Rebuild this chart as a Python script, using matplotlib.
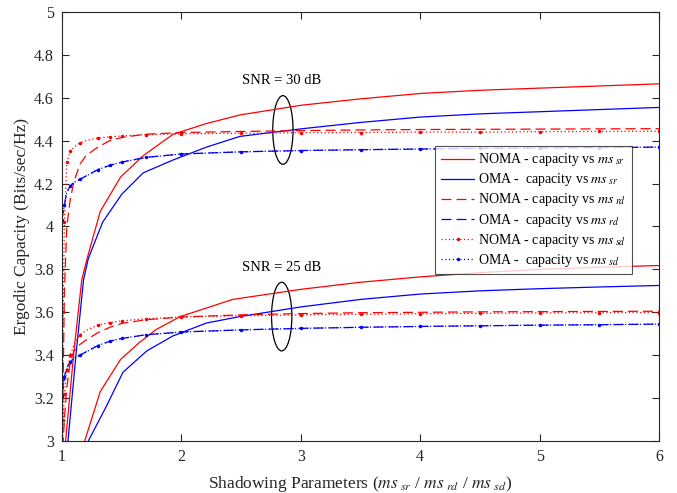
import numpy as np
import matplotlib.pyplot as plt
from matplotlib.patches import Ellipse
from matplotlib.ticker import FormatStrFormatter

plt.rcParams['font.family'] = ['Liberation Serif', 'DejaVu Serif']
plt.rcParams['mathtext.fontset'] = 'stix'

# common grid for the ms_rd / ms_sd curves
x_m = [1.0, 1.01, 1.02, 1.04, 1.07, 1.1, 1.15, 1.2, 1.3, 1.4, 1.5, 1.7, 2.0, 2.5, 3, 3.5, 4, 4.5, 5, 5.5, 6]

# SNR = 30 dB
noma_sd_30 = [2.9, 3.6, 4.02, 4.30, 4.35, 4.37, 4.39, 4.40, 4.412, 4.418, 4.422, 4.428, 4.432, 4.435, 4.437, 4.438, 4.44, 4.44, 4.442, 4.443, 4.444]
noma_rd_30 = [2.9, 3.3, 3.7, 4.0, 4.13, 4.21, 4.29, 4.33, 4.37, 4.40, 4.415, 4.43, 4.438, 4.443, 4.447, 4.45, 4.452, 4.453, 4.454, 4.455, 4.456]
oma_rd_30 = [4.03, 4.07, 4.10, 4.16, 4.19, 4.205, 4.22, 4.235, 4.265, 4.285, 4.30, 4.322, 4.338, 4.348, 4.354, 4.358, 4.361, 4.364, 4.366, 4.368, 4.37]
oma_sd_30 = [4.03, 4.07, 4.10, 4.16, 4.19, 4.205, 4.22, 4.235, 4.265, 4.285, 4.30, 4.322, 4.338, 4.348, 4.354, 4.358, 4.361, 4.364, 4.366, 4.368, 4.37]

x_noma_sr_30 = [1.0, 1.03, 1.1, 1.165, 1.21, 1.32, 1.49, 1.68, 1.93, 2.21, 2.49, 3, 3.5, 4, 4.5, 5, 5.5, 6]
noma_sr_30 = [2.5, 3.0, 3.42, 3.75, 3.85, 4.07, 4.23, 4.33, 4.43, 4.48, 4.52, 4.565, 4.595, 4.62, 4.635, 4.645, 4.655, 4.665]
x_oma_sr_30 = [1.0, 1.05, 1.12, 1.18, 1.22, 1.34, 1.5, 1.68, 1.93, 2.21, 2.49, 3, 3.5, 4, 4.5, 5, 5.5, 6]
oma_sr_30 = [2.5, 3.0, 3.42, 3.75, 3.85, 4.02, 4.15, 4.25, 4.31, 4.37, 4.42, 4.455, 4.485, 4.51, 4.525, 4.535, 4.545, 4.555]

# SNR = 25 dB
noma_sd_25 = [2.9, 3.1, 3.22, 3.33, 3.40, 3.45, 3.495, 3.515, 3.54, 3.552, 3.56, 3.57, 3.578, 3.584, 3.588, 3.591, 3.593, 3.595, 3.597, 3.598, 3.599]
noma_rd_25 = [2.9, 3.0, 3.1, 3.25, 3.37, 3.42, 3.45, 3.47, 3.505, 3.53, 3.548, 3.565, 3.578, 3.588, 3.594, 3.598, 3.6, 3.602, 3.603, 3.604, 3.605]
oma_rd_25 = [3.21, 3.25, 3.30, 3.34, 3.37, 3.385, 3.40, 3.415, 3.445, 3.465, 3.478, 3.495, 3.508, 3.518, 3.525, 3.53, 3.534, 3.537, 3.54, 3.542, 3.545]
oma_sd_25 = [3.21, 3.25, 3.30, 3.34, 3.37, 3.385, 3.40, 3.415, 3.445, 3.465, 3.478, 3.495, 3.508, 3.518, 3.525, 3.53, 3.534, 3.537, 3.54, 3.542, 3.545]

x_noma_sr_25 = [1.1, 1.19, 1.32, 1.49, 1.65, 1.79, 1.99, 2.21, 2.43, 3, 3.5, 4, 4.5, 5, 5.5, 6]
noma_sr_25 = [2.6, 3.0, 3.23, 3.38, 3.46, 3.52, 3.58, 3.62, 3.66, 3.707, 3.74, 3.765, 3.785, 3.80, 3.81, 3.818]
x_oma_sr_25 = [1.12, 1.22, 1.37, 1.51, 1.71, 1.93, 2.21, 2.49, 3, 3.5, 4, 4.5, 5, 5.5, 6]
oma_sr_25 = [2.6, 3.0, 3.16, 3.32, 3.42, 3.49, 3.55, 3.58, 3.625, 3.66, 3.685, 3.70, 3.71, 3.718, 3.725]

fig = plt.figure(figsize=(6.77, 4.93), dpi=100)
ax = fig.add_axes([0.0916, 0.1055, 0.8818, 0.8702])

lw = 0.9
dash = (8, 4)
dot = dict(ls=(0, (1, 2)), marker='.', ms=3, markevery=0.022)
ax.plot(x_noma_sr_30, noma_sr_30, 'r-', lw=lw, label='NOMA - capacity vs $ms_{\\ sr}$')
ax.plot(x_oma_sr_30, oma_sr_30, 'b-', lw=lw, label='OMA -  capacity vs $ms_{\\ sr}$')
ax.plot(x_m, noma_rd_30, 'r--', lw=lw, dashes=dash, label='NOMA - capacity vs $ms_{\\ rd}$')
ax.plot(x_m, oma_rd_30, 'b--', lw=lw, dashes=dash, label='OMA -  capacity vs $ms_{\\ rd}$')
ax.plot(x_m, noma_sd_30, color='r', lw=lw, label='NOMA - capacity vs $ms_{\\ sd}$', **dot)
ax.plot(x_m, oma_sd_30, color='b', lw=lw, label='OMA -  capacity vs $ms_{\\ sd}$', **dot)

ax.plot(x_noma_sr_25, noma_sr_25, 'r-', lw=lw)
ax.plot(x_oma_sr_25, oma_sr_25, 'b-', lw=lw)
ax.plot(x_m, noma_rd_25, 'r--', lw=lw, dashes=dash)
ax.plot(x_m, oma_rd_25, 'b--', lw=lw, dashes=dash)
ax.plot(x_m, noma_sd_25, color='r', lw=lw, **dot)
ax.plot(x_m, oma_sd_25, color='b', lw=lw, **dot)

ax.add_patch(Ellipse((2.85, 4.45), 0.17, 0.32, fill=False, ec='k', lw=0.9))
ax.add_patch(Ellipse((2.84, 3.58), 0.17, 0.32, fill=False, ec='k', lw=0.9))
ax.text(2.84, 4.68, 'SNR = 30 dB', ha='center', va='center', fontsize=10.5)
ax.text(2.84, 3.81, 'SNR = 25 dB', ha='center', va='center', fontsize=10.5)

ax.set_xlim(1, 6)
ax.set_ylim(3, 5)
ax.set_xticks([1, 2, 3, 4, 5, 6])
ax.set_yticks(np.arange(3, 5.01, 0.2))
ax.yaxis.set_major_formatter(FormatStrFormatter('%g'))
ax.tick_params(direction='in', top=True, right=True, labelsize=11.5, length=5, width=0.8,
               color='#262626', labelcolor='#262626', pad=6)
for s in ax.spines.values():
    s.set_linewidth(0.8)
    s.set_color('#262626')

ax.set_xlabel('Shadowing Parameters ($ms_{\\ sr}$ / $ms_{\\ rd}$ / $ms_{\\ sd}$)', fontsize=12.5, labelpad=6,
              color='#262626')
ax.set_ylabel('Ergodic Capacity (Bits/sec/Hz)', fontsize=12.5, labelpad=3, color='#262626')

leg = ax.legend(loc='upper right', bbox_to_anchor=(0.955, 0.688), borderaxespad=0, fontsize=10,
                frameon=True, fancybox=False, edgecolor='#262626', handlelength=2.4,
                handletextpad=0.3, borderpad=0.4, labelspacing=0.22)
leg.get_frame().set_linewidth(0.8)

fig.savefig('out.png', dpi=100)
